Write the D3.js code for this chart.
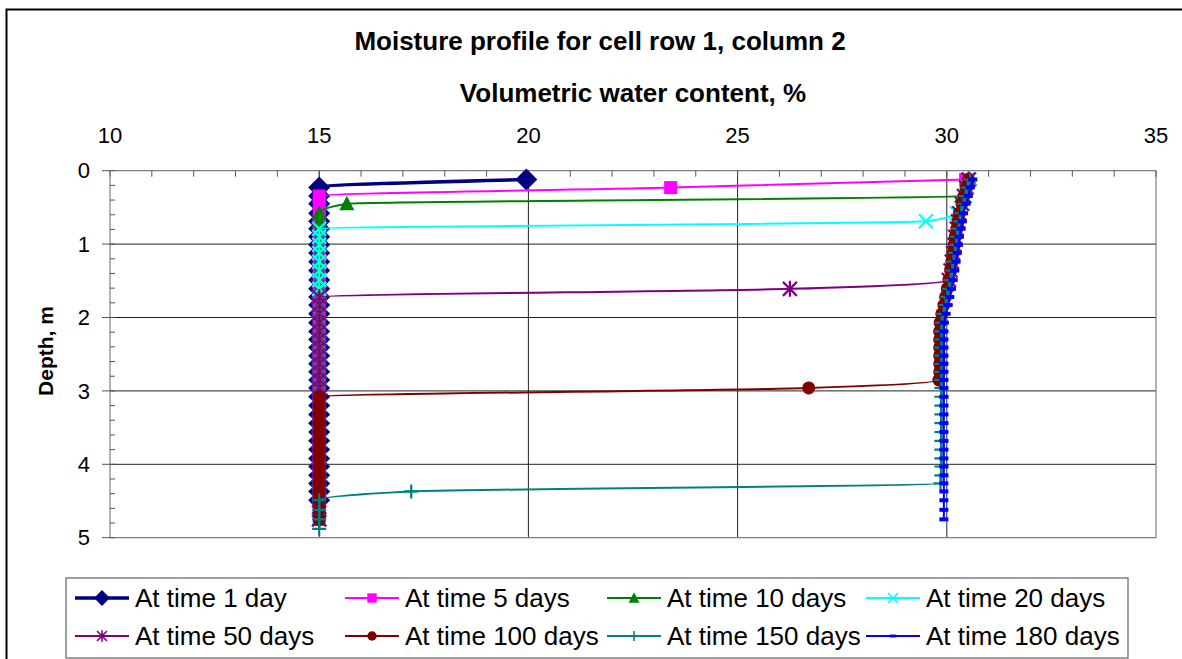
<!DOCTYPE html>
<html>
<head>
<meta charset="utf-8">
<script src="https://cdn.jsdelivr.net/npm/d3@7"></script>
<style>
  body { margin: 0; background: #fff; }
  svg { display: block; font-family: Arial, "Liberation Sans", sans-serif; }
</style>
</head>
<body>
<svg width="1182" height="659"></svg>
<script>
"use strict";

// depth of each cell centre, m
var depths = [0.12, 0.23, 0.345, 0.45, 0.58, 0.69, 0.79, 0.90, 1.01, 1.12,
              1.24, 1.36, 1.49, 1.61, 1.72, 1.83, 1.95, 2.07, 2.19, 2.30,
              2.41, 2.52, 2.63, 2.74, 2.85, 2.96, 3.08, 3.20, 3.32, 3.44,
              3.56, 3.68, 3.80, 3.92, 4.03, 4.15, 4.26, 4.37, 4.49, 4.62,
              4.75, 4.88];

// volumetric water content, % (null = no cell)
var day1 = [19.95, 15, 15, 15, 15, 15, 15, 15, 15, 15,
            15, 15, 15, 15, 15, 15, 15, 15, 15, 15,
            15, 15, 15, 15, 15, 15, 15, 15, 15, 15,
            15, 15, 15, 15, 15, 15, 15, 15, 15, null,
            null, null];
var day5 = [30.45, 23.4, 15, 15, 15, 15, 15, 15, 15, 15,
            15, 15, 15, 15, 15, 15, 15, 15, 15, 15,
            15, 15, 15, 15, 15, 15, 15, 15, 15, 15,
            15, 15, 15, 15, 15, 15, 15, 15, 15, 15,
            15, null];
var day10 = [30.55, 30.48, 30.35, 15.66, 15, 15, 15, 15, 15, 15,
             15, 15, 15, 15, 15, 15, 15, 15, 15, 15,
             15, 15, 15, 15, 15, 15, 15, 15, 15, 15,
             15, 15, 15, 15, 15, 15, 15, 15, 15, 15,
             15, null];
var day20 = [30.54, 30.48, 30.43, 30.38, 30.24, 29.5, 15, 15, 15, 15,
             15, 15, 15, 15, 15, 15, 15, 15, 15, 15,
             15, 15, 15, 15, 15, 15, 15, 15, 15, 15,
             15, 15, 15, 15, 15, 15, 15, 15, 15, 15,
             15, null];
var day50 = [30.52, 30.46, 30.41, 30.36, 30.30, 30.27, 30.24, 30.20, 30.18, 30.15,
             30.12, 30.09, 30.05, 26.25, 15, 15, 15, 15, 15, 15,
             15, 15, 15, 15, 15, 15, 15, 15, 15, 15,
             15, 15, 15, 15, 15, 15, 15, 15, 15, 15,
             15, null];
var day100 = [30.52, 30.46, 30.41, 30.36, 30.30, 30.27, 30.24, 30.20, 30.18, 30.15,
              30.12, 30.09, 30.05, 30.01, 29.97, 29.93, 29.88, 29.84, 29.83, 29.83,
              29.83, 29.83, 29.83, 29.83, 29.81, 26.7, 15, 15, 15, 15,
              15, 15, 15, 15, 15, 15, 15, 15, 15, 15,
              15, null];
var day150 = [30.56, 30.50, 30.45, 30.40, 30.34, 30.31, 30.28, 30.24, 30.22, 30.19,
              30.16, 30.13, 30.09, 30.05, 30.01, 29.97, 29.92, 29.88, 29.87, 29.87,
              29.87, 29.87, 29.87, 29.87, 29.87, 29.87, 29.87, 29.87, 29.87, 29.87,
              29.87, 29.87, 29.87, 29.87, 29.87, 29.87, 29.85, 17.2, 15, 15,
              15, 15];
var day180 = [30.62, 30.56, 30.51, 30.46, 30.40, 30.37, 30.34, 30.30, 30.28, 30.25,
              30.22, 30.19, 30.15, 30.11, 30.07, 30.03, 29.98, 29.94, 29.93, 29.93,
              29.93, 29.93, 29.93, 29.93, 29.93, 29.93, 29.93, 29.93, 29.93, 29.93,
              29.93, 29.93, 29.93, 29.93, 29.93, 29.93, 29.93, 29.93, 29.93, 29.93,
              29.93, null];

var seriesNames = ["At time 1 day", "At time 5 days", "At time 10 days", "At time 20 days",
                   "At time 50 days", "At time 100 days", "At time 150 days", "At time 180 days"];
var seriesValues = [day1, day5, day10, day20, day50, day100, day150, day180];
var seriesColors = ["#000080", "#ff00ff", "#008000", "#00ffff",
                    "#800080", "#800000", "#008080", "#0000ff"];
var seriesMarkers = ["diamond", "square", "triangle", "cross", "star", "circle", "plus", "dash"];

var xTicks = [10, 15, 20, 25, 30, 35];
var yTicks = [0, 1, 2, 3, 4, 5];

var svg = d3.select("svg"),
    plotLeft = 110, plotRight = 1156, plotTop = 170.7, plotBottom = 537.7;

var x = d3.scaleLinear().domain([10, 35]).range([plotLeft, plotRight]);
var y = d3.scaleLinear().domain([0, 5]).range([plotTop, plotBottom]);

// chart area border
svg.append("rect")
    .attr("x", 6.5).attr("y", 9.5)
    .attr("width", 1300).attr("height", 800)
    .attr("fill", "#fff")
    .attr("stroke", "#000")
    .attr("stroke-width", 2);

// gridlines
svg.append("g")
    .selectAll("line")
    .data(xTicks.slice(1, -1))
    .enter().append("line")
    .attr("x1", function(d) { return x(d); })
    .attr("x2", function(d) { return x(d); })
    .attr("y1", plotTop).attr("y2", plotBottom)
    .attr("stroke", "#222").attr("stroke-width", 1);

svg.append("g")
    .selectAll("line")
    .data(yTicks.slice(1, -1))
    .enter().append("line")
    .attr("x1", plotLeft).attr("x2", plotRight)
    .attr("y1", function(d) { return y(d); })
    .attr("y2", function(d) { return y(d); })
    .attr("stroke", "#222").attr("stroke-width", 1);

// plot frame right and bottom
svg.append("path")
    .attr("d", "M" + plotRight + "," + plotTop + "V" + plotBottom + "H" + plotLeft)
    .attr("fill", "none")
    .attr("stroke", "#808080").attr("stroke-width", 1.2);

// top axis: minor ticks inside, labels above
var xAxis = svg.append("g").attr("transform", "translate(0," + plotTop + ")");
xAxis.append("line")
    .attr("x1", plotLeft).attr("x2", plotRight)
    .attr("stroke", "#808080").attr("stroke-width", 1.2);
xAxis.selectAll("line.minor")
    .data(d3.range(10, 36))
    .enter().append("line").attr("class", "minor")
    .attr("x1", function(d) { return x(d); })
    .attr("x2", function(d) { return x(d); })
    .attr("y1", 0).attr("y2", 6)
    .attr("stroke", "#555");
xAxis.selectAll("text")
    .data(xTicks)
    .enter().append("text")
    .attr("x", function(d) { return x(d); })
    .attr("y", -28)
    .attr("text-anchor", "middle")
    .style("font-size", "22px")
    .text(function(d) { return d; });

// left axis: major ticks outside, minor ticks inside
var yAxis = svg.append("g").attr("transform", "translate(" + plotLeft + ",0)");
yAxis.append("line")
    .attr("y1", plotTop).attr("y2", plotBottom)
    .attr("stroke", "#808080").attr("stroke-width", 1.2);
yAxis.selectAll("line.minor")
    .data(d3.range(0, 5.01, 0.2))
    .enter().append("line").attr("class", "minor")
    .attr("x1", 0).attr("x2", 5)
    .attr("y1", function(d) { return y(d); })
    .attr("y2", function(d) { return y(d); })
    .attr("stroke", "#555");
yAxis.selectAll("line.major")
    .data(yTicks)
    .enter().append("line").attr("class", "major")
    .attr("x1", -8).attr("x2", 0)
    .attr("y1", function(d) { return y(d); })
    .attr("y2", function(d) { return y(d); })
    .attr("stroke", "#555");
yAxis.selectAll("text")
    .data(yTicks)
    .enter().append("text")
    .attr("x", -20)
    .attr("y", function(d) { return y(d); })
    .attr("dy", "0.35em")
    .attr("text-anchor", "end")
    .style("font-size", "22px")
    .text(function(d) { return d; });

// titles
svg.append("text")
    .attr("x", 600).attr("y", 50)
    .attr("text-anchor", "middle")
    .style("font-size", "26px").style("font-weight", "bold")
    .text("Moisture profile for cell row 1, column 2");

svg.append("text")
    .attr("x", (plotLeft + plotRight) / 2).attr("y", 102)
    .attr("text-anchor", "middle")
    .style("font-size", "26px").style("font-weight", "bold")
    .text("Volumetric water content, %");

svg.append("text")
    .attr("transform", "translate(53," + 351 + ") rotate(-90)")
    .attr("text-anchor", "middle")
    .style("font-size", "21px").style("font-weight", "bold")
    .text("Depth, m");

// marker drawing
function drawMarker(g, type, color) {
  if (type === "diamond") {
    g.append("path").attr("d", "M0,-11L11,0L0,11L-11,0Z").attr("fill", color);
  } else if (type === "square") {
    g.append("rect").attr("x", -6.5).attr("y", -6.5).attr("width", 13).attr("height", 13).attr("fill", color);
  } else if (type === "triangle") {
    g.append("path").attr("d", "M0,-8L7.5,6.5L-7.5,6.5Z").attr("fill", color);
  } else if (type === "cross") {
    g.append("path").attr("d", "M-7,-7L7,7M-7,7L7,-7").attr("stroke", color).attr("stroke-width", 2.2);
  } else if (type === "star") {
    g.append("path").attr("d", "M-7,-7L7,7M-7,7L7,-7M0,-8V8").attr("stroke", color).attr("stroke-width", 2.2);
  } else if (type === "circle") {
    g.append("circle").attr("r", 6.5).attr("fill", color);
  } else if (type === "plus") {
    g.append("path").attr("d", "M-7,0H7M0,-7V7").attr("stroke", color).attr("stroke-width", 2.2);
  } else if (type === "dash") {
    g.append("rect").attr("x", -4.5).attr("y", -2).attr("width", 9).attr("height", 4).attr("fill", color);
  }
}

var line = d3.line()
    .defined(function(d) { return d.v != null; })
    .x(function(d) { return x(d.v); })
    .y(function(d) { return y(d.z); })
    .curve(d3.curveMonotoneY);

var plot = svg.append("g");

seriesValues.forEach(function(vals, i) {
  var pts = vals.map(function(v, j) { return {v: v, z: depths[j]}; });
  var g = plot.append("g");
  g.append("path")
      .datum(pts)
      .attr("d", line)
      .attr("fill", "none")
      .attr("stroke", seriesColors[i])
      .attr("stroke-width", i === 0 ? 3.6 : 2)
      .attr("stroke-linejoin", "round");
  g.selectAll("g.m")
      .data(pts.filter(function(d) { return d.v != null; }))
      .enter().append("g").attr("class", "m")
      .attr("transform", function(d) { return "translate(" + x(d.v) + "," + y(d.z) + ")"; })
      .each(function() { drawMarker(d3.select(this), seriesMarkers[i], seriesColors[i]); });
});

// legend
var legend = svg.append("g");
legend.append("rect")
    .attr("x", 66).attr("y", 578)
    .attr("width", 1062).attr("height", 80)
    .attr("fill", "#fff")
    .attr("stroke", "#808080").attr("stroke-width", 1.5);

var legendCols = [75, 345, 607, 866],
    legendRows = [598, 636];

seriesNames.forEach(function(name, i) {
  var lx = legendCols[i % 4], ly = legendRows[Math.floor(i / 4)];
  var item = legend.append("g").attr("transform", "translate(" + lx + "," + ly + ")");
  item.append("line")
      .attr("x1", 0).attr("x2", 54)
      .attr("stroke", seriesColors[i])
      .attr("stroke-width", i === 0 ? 3.6 : 2);
  var m = item.append("g").attr("transform", "translate(27,0) scale(0.72)");
  drawMarker(m, seriesMarkers[i], seriesColors[i]);
  item.append("text")
      .attr("x", 60).attr("y", 0)
      .attr("dy", "0.35em")
      .style("font-size", "26px")
      .text(name);
});
</script>
</body>
</html>
